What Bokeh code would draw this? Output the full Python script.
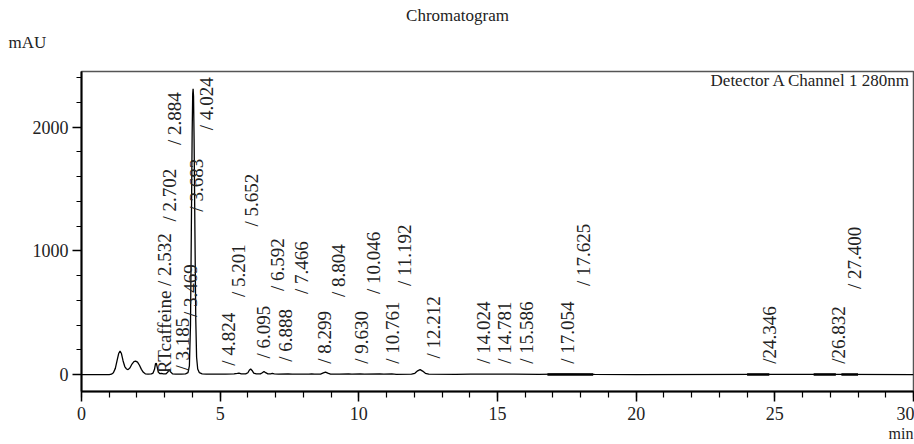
import math
from bokeh.plotting import figure
from bokeh.layouts import column
from bokeh.models import (Range1d, SingleIntervalTicker, FixedTicker, Label,
                          LinearAxis, ColumnDataSource)
from bokeh.core.properties import value
from bokeh.embed import file_html
from bokeh.resources import INLINE

# ---- chromatogram trace ----
time_min = [0.00, 1.00, 1.08, 1.15, 1.22, 1.28, 1.34, 1.39, 1.44, 1.50, 1.56, 1.62, 1.68,
            1.75, 1.82, 1.89, 1.95, 2.02, 2.09, 2.16, 2.23, 2.30, 2.40, 2.52, 2.58, 2.63,
            2.67, 2.70, 2.73, 2.77, 2.82, 2.88, 2.95, 3.05, 3.11, 3.16, 3.21, 3.28, 3.40,
            3.60, 3.75, 3.84, 3.89, 3.93, 3.96, 3.99, 4.01, 4.024, 4.04, 4.06, 4.09, 4.12,
            4.15, 4.19, 4.25, 4.35, 4.50, 4.80, 5.20, 5.50, 5.62, 5.68, 5.76, 5.92, 6.00,
            6.05, 6.10, 6.15, 6.21, 6.30, 6.45, 6.52, 6.58, 6.64, 6.72, 6.82, 6.88, 6.95,
            7.10, 7.45, 7.60, 8.20, 8.30, 8.40, 8.62, 8.72, 8.80, 8.88, 8.98, 9.30, 9.63,
            9.75, 10.05, 10.20, 10.76, 10.90, 11.19, 11.35, 11.90, 12.02, 12.12, 12.21,
            12.30, 12.40, 12.52, 13.50, 14.02, 14.78, 15.59, 16.50, 17.05, 17.62, 18.50,
            20.00, 24.35, 26.83, 27.40, 30.00]
signal_mau = [0, 0, 3, 15, 50, 110, 170, 190, 170, 110, 65, 45, 40,
              55, 85, 104, 108, 100, 75, 42, 18, 6, 3, 5, 12, 40,
              88, 90, 60, 20, 8, 10, 6, 6, 20, 40, 22, 6, 3,
              4, 6, 15, 70, 400, 1150, 1950, 2270, 2310, 2250, 1900, 1150, 450,
              140, 45, 15, 6, 3, 3, 4, 5, 9, 12, 6, 5, 15,
              35, 45, 33, 12, 5, 6, 15, 25, 15, 6, 6, 10, 6,
              4, 5, 3, 3, 5, 3, 4, 13, 20, 12, 4, 3, 5,
              3, 5, 3, 6, 3, 5, 2, 3, 10, 30, 40,
              28, 10, 3, 2, 3, 3, 3, 2, 3, 3, 1,
              0, 1, 1, 1, 0]

# ---- peak labels ----
peak_rt = [2.532, 2.702, 2.884, 3.185, 3.469, 3.683, 4.024, 4.824, 5.201, 5.652,
           6.095, 6.592, 6.888, 7.466, 8.299, 8.804, 9.630, 10.046, 10.761, 11.192,
           12.212, 14.024, 14.781, 15.586, 17.054, 17.625, 24.346, 26.832, 27.400]
peak_text = ["RTcaffeine / 2.532", "/ 2.702", "/ 2.884", "/ 3.185", "/ 3.469", "/ 3.683",
             "/ 4.024", "/ 4.824", "/ 5.201", "/ 5.652", "/ 6.095", "/ 6.592", "/ 6.888",
             "/ 7.466", "/ 8.299", "/ 8.804", "/ 9.630", "/ 10.046", "/ 10.761", "/ 11.192",
             "/ 12.212", "/ 14.024", "/ 14.781", "/ 15.586", "/ 17.054", "/ 17.625",
             "/24.346", "/26.832", "/ 27.400"]
label_base = [10, 1237, 1855, 32, 466, 1317, 1976, 72, 627, 1197,
              129, 675, 104, 651, 88, 627, 88, 651, 88, 715,
              129, 88, 88, 88, 88, 715, 88, 88, 691]

# ---- integration baseline marks ----
base_start = [16.80, 24.00, 26.40, 27.40]
base_end = [18.45, 24.80, 27.20, 28.00]
base_level = [0, 0, 0, 0]

x_ticks_interval = 5
y_ticks_interval = 1000
unit_x_pos = [29.55]

FONT = "Liberation Serif"
INK = "#222222"

# ---- header strip (title and y unit) ----
head = figure(width=914, height=70, x_range=Range1d(0, 914), y_range=Range1d(0, 70),
              x_axis_type=None, y_axis_type=None, output_backend="svg",
              toolbar_location=None, min_border=0, outline_line_color=None)
head.add_layout(Label(x=457, y=55, text="Chromatogram", text_align="center",
                      text_baseline="middle", text_font=FONT, text_font_size="17px",
                      text_color=INK))
head.add_layout(Label(x=8, y=28, text="mAU", text_align="left",
                      text_baseline="middle", text_font=FONT, text_font_size="17px",
                      text_color=INK))

# ---- main chart ----
p = figure(width=914, height=374, x_range=Range1d(0, 30), y_range=Range1d(-137, 2450),
           output_backend="svg", toolbar_location=None,
           min_border_left=81, min_border_right=1, min_border_top=1, min_border_bottom=0)

# keep each plot's own frame (no frame alignment inside the column)
for fig in (head, p):
    if "frame_align" in fig.properties():
        fig.frame_align = False

p.xgrid.visible = False
p.ygrid.visible = False
p.outline_line_color = "#555555"
p.outline_line_width = 1.5

p.xaxis.ticker = SingleIntervalTicker(interval=x_ticks_interval, num_minor_ticks=5)
p.yaxis.ticker = SingleIntervalTicker(interval=y_ticks_interval, num_minor_ticks=5)
for ax in (p.xaxis, p.yaxis):
    ax.axis_line_color = "black"
    ax.axis_line_width = 2
    ax.major_tick_line_color = "black"
    ax.minor_tick_line_color = "black"
    ax.major_tick_line_width = 1.5
    ax.minor_tick_line_width = 1.2
    ax.major_tick_in = 0
    ax.minor_tick_in = 0
    ax.major_label_text_font = FONT
    ax.major_label_text_font_size = "18px"
    ax.major_label_text_color = INK
p.xaxis.major_tick_out = 10
p.xaxis.minor_tick_out = 6
p.xaxis.major_label_standoff = 5
p.yaxis.major_tick_out = 9
p.yaxis.minor_tick_out = 5
p.yaxis.major_label_standoff = 4

# unit label "min" as a second, bare axis below the first
unit_axis = LinearAxis(ticker=FixedTicker(ticks=unit_x_pos),
                       major_label_overrides={unit_x_pos[0]: "min"},
                       axis_line_color=None, major_tick_line_color=None,
                       minor_tick_line_color=None, major_tick_out=0, major_tick_in=0,
                       major_label_standoff=2, major_label_text_font=FONT,
                       major_label_text_font_size="16px", major_label_text_color=INK)
p.add_layout(unit_axis, "below")

p.line(time_min, signal_mau, line_color="black", line_width=1.3)
p.segment(x0=base_start, y0=base_level, x1=base_end, y1=base_level,
          line_color="black", line_width=2.5)

src = ColumnDataSource(dict(x=peak_rt, y=label_base, t=peak_text))
p.text(x="x", y="y", text="t", source=src, angle=math.pi / 2, x_offset=13,
       text_align="left", text_baseline="middle", text_font=value(FONT),
       text_font_size="19px", text_color=INK)

p.add_layout(Label(x=29.9, y=2378, text="Detector A Channel 1 280nm", text_align="right",
                   text_baseline="middle", text_font=FONT, text_font_size="17px",
                   text_color=INK))

layout = column(head, p, spacing=0)
open("out.html", "w").write(file_html(layout, INLINE))
